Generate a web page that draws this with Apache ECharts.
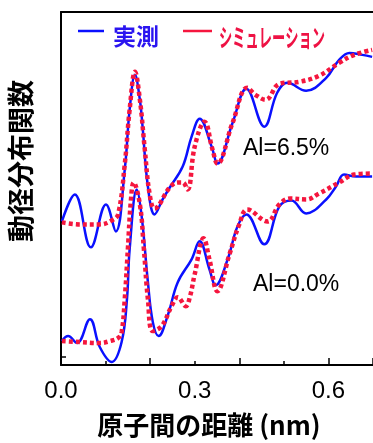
<!DOCTYPE html>
<html><head><meta charset="utf-8">
<script src="https://cdn.jsdelivr.net/npm/echarts@6/dist/echarts.min.js"></script>
<style>html,body{margin:0;padding:0;background:#fff}#c{width:373px;height:443px}</style>
</head><body><div id="c"></div>
<script>
// distance r (nm) and radial distribution (arbitrary units, offset curves)
const expHighR = [0.002,0.031,0.067,0.101,0.123,0.143,0.154,0.166,0.177,0.183,0.195,0.210,0.228,0.244,0.273,0.293,0.311,0.338,0.351,0.385,0.416,0.456,0.485,0.508,0.550,0.595,0.624,0.647,0.676,0.698];
const expHighV = [144,171,118,161,134,196,256,291,266,239,179,151,166,178,199,229,247,219,202,243,277,239,273,283,275,288,306,313,311,309];
const simHighR = [0.002,0.043,0.087,0.114,0.128,0.143,0.154,0.166,0.177,0.188,0.199,0.210,0.244,0.262,0.273,0.284,0.300,0.322,0.340,0.351,0.385,0.418,0.436,0.459,0.490,0.535,0.579,0.624,0.658,0.698];
const simHighV = [143,141,141,145,151,201,256,294,266,216,171,157,178,183,183,176,219,244,216,202,243,278,271,266,282,284,290,303,311,316];
const expLowR = [0.002,0.016,0.036,0.065,0.087,0.114,0.136,0.148,0.154,0.170,0.181,0.195,0.206,0.219,0.239,0.262,0.293,0.311,0.333,0.347,0.374,0.396,0.416,0.456,0.490,0.517,0.550,0.595,0.617,0.635,0.662,0.698];
const expLowV = [24,29,22,46,18,3,23,66,116,176,149,83,43,29,49,83,106,124,96,80,106,139,151,121,159,165,152,166,179,191,189,189];
const simLowR = [0.002,0.043,0.087,0.110,0.128,0.136,0.143,0.150,0.157,0.163,0.177,0.186,0.195,0.206,0.226,0.248,0.262,0.280,0.289,0.300,0.320,0.333,0.351,0.378,0.400,0.418,0.463,0.490,0.514,0.550,0.579,0.624,0.658,0.698];
const simLowV = [24,23,22,24,27,33,66,116,166,183,161,116,66,34,39,59,68,59,68,91,127,106,74,111,141,156,144,161,167,166,172,183,191,192];
const xTickLabels = [0, 0.3, 0.6];
const labelHigh = 'Al=6.5%';
const labelLow = 'Al=0.0%';
const legendNames = ['実測', 'シミュレーション'];

const BLUE = '#0a10ff', RED = '#f5163e';
const zip = (r, v) => r.map((x, i) => [x, v[i]]);
const chart = echarts.init(document.getElementById('c'), null, {renderer: 'canvas'});
const blueStyle = {color: BLUE, width: 2.5};
const redStyle = {color: RED, width: 4.5, type: [4, 3], cap: 'butt'};
const common = {type: 'line', smooth: 0.4, symbol: 'none', clip: true};
chart.setOption({
  animation: false,
  grid: {left: 61, top: 12, right: 0, bottom: 77},
  xAxis: [{
    type: 'value', min: 0, max: 0.7, interval: 0.2,
    name: '原子間の距離 (nm)', nameLocation: 'middle', nameGap: 47,
    nameTextStyle: {fontFamily: 'Noto Sans CJK JP', fontSize: 26, fontWeight: 'bold', color: '#000', padding: [0, 16, 0, 0]},
    axisLine: {lineStyle: {color: '#000', width: 2}},
    axisTick: {inside: true, length: 7, lineStyle: {color: '#000', width: 1.5}},
    minorTick: {show: true, splitNumber: 2, length: 4, lineStyle: {color: '#000', width: 1.5}},
    axisLabel: {customValues: xTickLabels, formatter: v => v.toFixed(1), margin: 14,
      fontFamily: 'Liberation Sans', fontSize: 24, color: '#000'},
    splitLine: {show: false}, minorSplitLine: {show: false}
  }, {
    type: 'value', position: 'top', min: 0, max: 0.7,
    axisLine: {show: true, lineStyle: {color: '#000', width: 2}},
    axisTick: {show: false}, axisLabel: {show: false}, splitLine: {show: false}
  }],
  yAxis: {
    type: 'value', min: 0, max: 354,
    axisLine: {show: true, lineStyle: {color: '#000', width: 2}},
    axisTick: {show: true, inside: true, length: 5, customValues: [8], lineStyle: {color: '#000', width: 1.5}},
    axisLabel: {show: false}, splitLine: {show: false}
  },
  series: [
    Object.assign({name: legendNames[0], data: zip(expHighR, expHighV), lineStyle: blueStyle}, common),
    Object.assign({name: legendNames[0], data: zip(expLowR, expLowV), lineStyle: blueStyle}, common),
    Object.assign({name: legendNames[1], data: zip(simHighR, simHighV), lineStyle: redStyle}, common),
    Object.assign({name: legendNames[1], data: zip(simLowR, simLowV), lineStyle: redStyle}, common)
  ],
  graphic: [
    {type: 'text', x: 21, y: 161, rotation: Math.PI / 2,
      style: {text: '動径分布関数', fontFamily: 'Noto Sans CJK JP', fontSize: 27, fontWeight: 'bold', fill: '#000', align: 'center', verticalAlign: 'middle'}},
    {type: 'line', shape: {x1: 78, y1: 31, x2: 104, y2: 31}, style: {stroke: BLUE, lineWidth: 2.5}},
    {type: 'text', x: 113, y: 36, style: {text: legendNames[0], fontFamily: 'Noto Sans CJK JP', fontSize: 23, fontWeight: 'bold', fill: '#2a14f0', verticalAlign: 'middle'}},
    {type: 'line', shape: {x1: 183, y1: 31, x2: 212, y2: 31}, style: {stroke: RED, lineWidth: 2.5}},
    {type: 'text', x: 219, y: 37, scaleX: 0.53, style: {text: legendNames[1], fontFamily: 'Noto Sans CJK JP', fontSize: 25, fontWeight: 'bold', fill: '#ee1244', verticalAlign: 'middle'}},
    {type: 'text', x: 243, y: 149, style: {text: labelHigh, fontFamily: 'Liberation Sans', fontSize: 23, fill: '#000', verticalAlign: 'middle'}},
    {type: 'text', x: 253, y: 285, style: {text: labelLow, fontFamily: 'Liberation Sans', fontSize: 23, fill: '#000', verticalAlign: 'middle'}}
  ]
});
</script></body></html>
